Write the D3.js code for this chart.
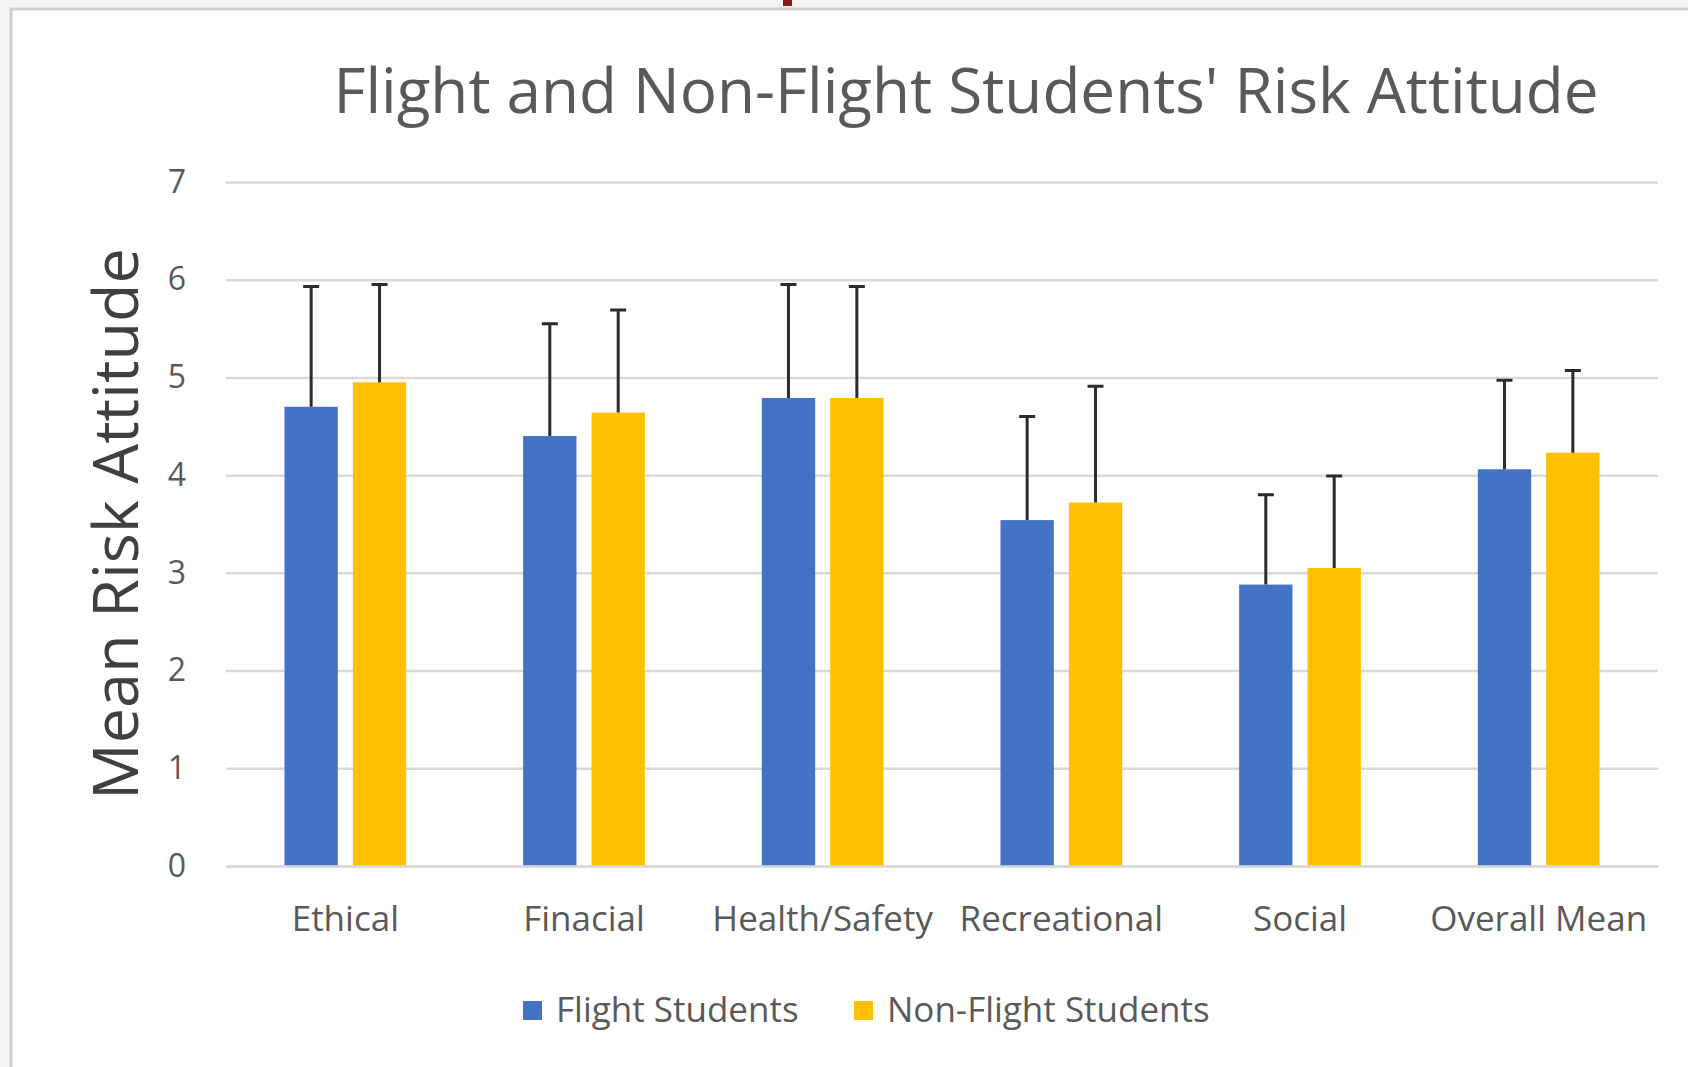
<!DOCTYPE html>
<html>
<head>
<meta charset="utf-8">
<script src="https://cdn.jsdelivr.net/npm/d3@7"></script>
<style>
  body { margin: 0; background: #f3f3f3; }
  text { font-family: "Open Sans", sans-serif; }
</style>
</head>
<body>
<div id="chart"></div>
<script>
const width = 1688;
const height = 1067;

// data
const categories = ["Ethical", "Finacial", "Health/Safety", "Recreational", "Social", "Overall Mean"];
const seriesNames = ["Flight Students", "Non-Flight Students"];
const flightMeans = [4.70, 4.40, 4.79, 3.54, 2.88, 4.06];
const flightUpper = [5.93, 5.55, 5.95, 4.60, 3.80, 4.97];
const nonFlightMeans = [4.95, 4.64, 4.79, 3.72, 3.05, 4.23];
const nonFlightUpper = [5.95, 5.69, 5.93, 4.91, 3.99, 5.07];
const yTicks = [0, 1, 2, 3, 4, 5, 6, 7];

const colors = ["#4472C4", "#FFC000"];

const margin = { top: 182, right: 30, bottom: 201, left: 226 };
const plotW = 1658 - margin.left;
const plotH = height - margin.top - margin.bottom;

const svg = d3
  .select("#chart")
  .append("svg")
  .attr("width", width)
  .attr("height", height);

// chart area with its thin border
svg
  .append("rect")
  .attr("x", 11)
  .attr("y", 9)
  .attr("width", width)
  .attr("height", height)
  .attr("fill", "#ffffff")
  .attr("stroke", "#cfcfcf")
  .attr("stroke-width", 3);

svg
  .append("rect")
  .attr("x", 783)
  .attr("y", 0)
  .attr("width", 9)
  .attr("height", 6)
  .attr("fill", "#8b1a1a");

const rows = categories.map((c, i) => ({
  category: c,
  values: [
    { key: seriesNames[0], mean: flightMeans[i], upper: flightUpper[i] },
    { key: seriesNames[1], mean: nonFlightMeans[i], upper: nonFlightUpper[i] },
  ],
}));

const x0 = d3
  .scaleBand()
  .domain(categories)
  .range([0, plotW])
  .paddingInner(0.49)
  .paddingOuter(0.245);

const x1 = d3
  .scaleBand()
  .domain(seriesNames)
  .range([0, x0.bandwidth()])
  .paddingInner(0.22);

const y = d3.scaleLinear().domain([0, 7]).range([plotH, 0]);

const g = svg
  .append("g")
  .attr("transform", `translate(${margin.left},${margin.top})`);

// gridlines
g.append("g")
  .attr("class", "grid")
  .call(d3.axisLeft(y).tickValues(yTicks).tickSize(-plotW).tickFormat(""))
  .call((s) => s.select(".domain").remove())
  .call((s) =>
    s.selectAll(".tick line").attr("stroke", "#d9d9d9").attr("stroke-width", 2.5)
  );

// y tick labels
g.append("g")
  .call(
    d3.axisLeft(y).tickValues(yTicks).tickFormat(d3.format("d")).tickSize(0).tickPadding(40)
  )
  .call((s) => s.select(".domain").remove())
  .call((s) =>
    s
      .selectAll(".tick text")
      .attr("fill", "#595959")
      .style("font-size", "32px")
  );

// bars
const groups = g
  .selectAll(".group")
  .data(rows)
  .enter()
  .append("g")
  .attr("class", "group")
  .attr("transform", (d) => `translate(${x0(d.category)},0)`);

groups
  .selectAll("rect")
  .data((d) => d.values)
  .enter()
  .append("rect")
  .attr("x", (d) => x1(d.key))
  .attr("y", (d) => y(d.mean))
  .attr("width", x1.bandwidth())
  .attr("height", (d) => y(0) - y(d.mean))
  .attr("fill", (d, i) => colors[i]);

// error bars (plus side only)
const capW = 16;
groups
  .selectAll(".err")
  .data((d) => d.values)
  .enter()
  .append("path")
  .attr("class", "err")
  .attr("d", (d) => {
    const cx = x1(d.key) + x1.bandwidth() / 2;
    return `M${cx},${y(d.mean)}V${y(d.upper)}M${cx - capW / 2},${y(d.upper)}H${cx + capW / 2}`;
  })
  .attr("fill", "none")
  .attr("stroke", "#2b2b2b")
  .attr("stroke-width", 3);

// x axis
g.append("g")
  .attr("transform", `translate(0,${plotH})`)
  .call(d3.axisBottom(x0).tickSize(0).tickPadding(40))
  .call((s) => s.select(".domain").attr("stroke", "#d9d9d9").attr("stroke-width", 2.5))
  .call((s) =>
    s
      .selectAll(".tick text")
      .attr("fill", "#595959")
      .style("font-size", "35px")
  );

// title
svg
  .append("text")
  .attr("x", 966)
  .attr("y", 113)
  .attr("text-anchor", "middle")
  .attr("fill", "#595959")
  .style("font-size", "62px")
  .text("Flight and Non-Flight Students' Risk Attitude");

// y axis title
svg
  .append("text")
  .attr("transform", "translate(138,524) rotate(-90)")
  .attr("text-anchor", "middle")
  .attr("fill", "#404040")
  .style("font-size", "63px")
  .text("Mean Risk Attitude");

// legend
const legend = svg
  .append("g")
  .selectAll("g")
  .data(seriesNames)
  .enter()
  .append("g")
  .attr("transform", (d, i) => `translate(${[523, 854][i]},1001)`);

legend
  .append("rect")
  .attr("width", 19)
  .attr("height", 19)
  .attr("fill", (d, i) => colors[i]);

legend
  .append("text")
  .attr("x", 33)
  .attr("y", 21)
  .attr("fill", "#595959")
  .style("font-size", "35px")
  .text((d) => d);
</script>
</body>
</html>
